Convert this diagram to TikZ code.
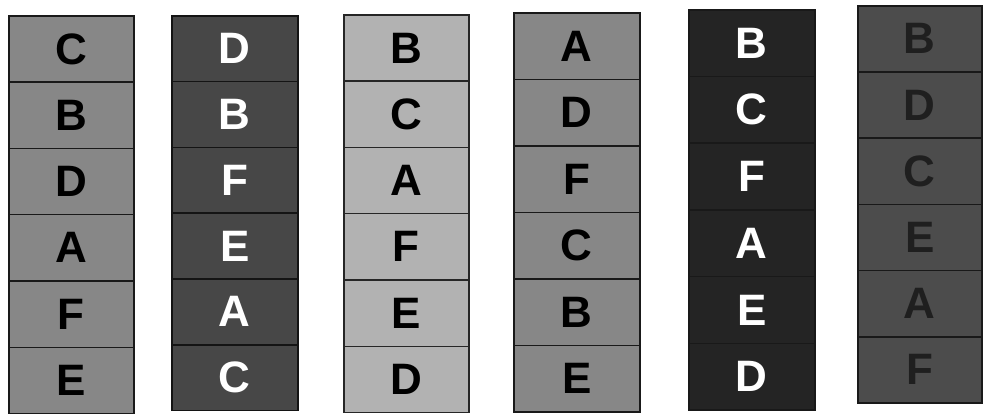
\documentclass[tikz,border=0pt]{standalone}
\usepackage{fontspec}
\setmainfont{Liberation Sans}
\begin{document}
\begin{tikzpicture}[x=1pt,y=-1pt,
  cell/.style={line width=1.5pt, inner sep=0pt, anchor=north west,
    font=\fontsize{44}{44}\selectfont\bfseries}]
\useasboundingbox (0,0) rectangle (984,416);
\fill[white] (0,0) rectangle (984,416);
\foreach \n/\x/\y/\w/\h/\f/\d/\tc/\letters in {
  1/8/15/125/66.3/black!47/black!90/black/{C,B,D,A,F,E},
  2/171/15/126/65.8/black!72/black!92/white/{D,B,F,E,A,C},
  3/343/14/125/66.3/black!30/black!85/black/{B,C,A,F,E,D},
  4/513/12/126/66.5/black!47/black!90/black/{A,D,F,C,B,E},
  5/688/9/126/66.7/black!86/black!90/white/{B,C,F,A,E,D},
  6/857/5/124/66.2/black!70/black!90/black!88/{B,D,C,E,A,F}}
{
  \foreach \L [count=\k] in \letters {
    \node[cell, draw=\d, fill=\f, text=\tc, minimum width=\w pt, minimum height=\h pt]
      (c\n-\k) at (\x, {\y+(\k-1)*\h}) {\L};
  }
}
\end{tikzpicture}
\end{document}
